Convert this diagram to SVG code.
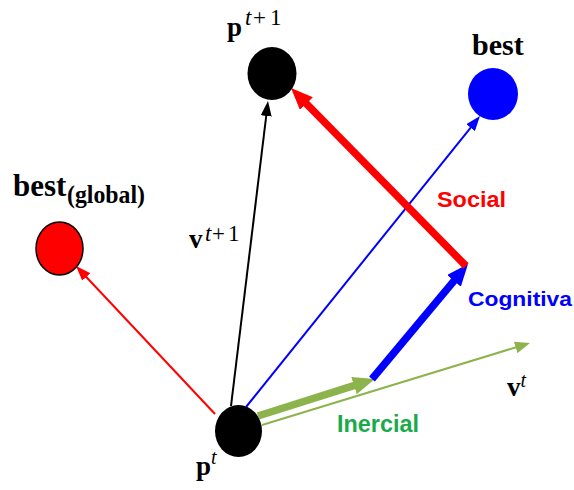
<svg xmlns="http://www.w3.org/2000/svg" width="574" height="490" viewBox="0 0 574 490">
<style>
.serif{font-family:"Liberation Serif","Times New Roman",serif;fill:#000}
.b{font-weight:bold}
.it{font-style:italic}
.sup{font-size:23px}
.sans{font-family:"Liberation Sans",Arial,sans-serif;font-weight:bold}
.thin{fill:none;stroke-width:2}
.thick{fill:none;stroke-width:7.5}
</style>
<defs>
<marker id="hr" markerUnits="userSpaceOnUse" markerWidth="15" markerHeight="11" refX="4" refY="5.5" orient="auto"><path d="M0,0 L15,5.5 L0,11 z" fill="#ff0000"/></marker>
<marker id="hk" markerUnits="userSpaceOnUse" markerWidth="15" markerHeight="11" refX="4" refY="5.5" orient="auto"><path d="M0,0 L15,5.5 L0,11 z" fill="#000"/></marker>
<marker id="hb" markerUnits="userSpaceOnUse" markerWidth="15" markerHeight="11" refX="4" refY="5.5" orient="auto"><path d="M0,0 L15,5.5 L0,11 z" fill="#0000ff"/></marker>
<marker id="hg" markerUnits="userSpaceOnUse" markerWidth="15" markerHeight="12" refX="4" refY="6" orient="auto"><path d="M0,0 L15,6 L0,12 z" fill="#8db34d"/></marker>
<marker id="Hr" markerUnits="userSpaceOnUse" markerWidth="22" markerHeight="18" refX="4" refY="9" orient="auto"><path d="M0,0 L22,9 L0,18 z" fill="#ff0000"/></marker>
<marker id="Hb" markerUnits="userSpaceOnUse" markerWidth="22" markerHeight="18" refX="4" refY="9" orient="auto"><path d="M0,0 L22,9 L0,18 z" fill="#0000ff"/></marker>
<marker id="Hg" markerUnits="userSpaceOnUse" markerWidth="22" markerHeight="18" refX="4" refY="9" orient="auto"><path d="M0,0 L22,9 L0,18 z" fill="#8db34d"/></marker>
</defs>
<rect width="574" height="490" fill="#fff"/>
<g id="connectors">
<line class="thin" x1="215" y1="414" x2="83.5" y2="274" stroke="#ff0000" marker-end="url(#hr)"/>
<line class="thin" x1="231" y1="406" x2="266.7" y2="112" stroke="#000" marker-end="url(#hk)"/>
<line class="thin" x1="246" y1="407" x2="473.1" y2="124.6" stroke="#0000ff" marker-end="url(#hb)"/>
<line class="thin" x1="262" y1="425" x2="519.5" y2="346.2" stroke="#8db34d" stroke-width="2.5" marker-end="url(#hg)"/>
<line class="thick" x1="258" y1="416" x2="357.8" y2="384.4" stroke="#8db34d" stroke-width="8" marker-end="url(#Hg)"/>
<line class="thick" x1="372" y1="379" x2="456.5" y2="277.8" stroke="#0000ff" marker-end="url(#Hb)"/>
<line class="thick" x1="466" y1="266" x2="303.6" y2="100.8" stroke="#ff0000" marker-end="url(#Hr)"/>
</g>
<g id="p_t">
<ellipse cx="238.5" cy="431" rx="23.5" ry="26" fill="#000"/>
<text class="serif" x="196" y="475"><tspan class="b" font-size="27">p</tspan><tspan class="it" font-size="20" dy="-11">t</tspan></text>
</g>
<g id="p_t1">
<ellipse cx="272" cy="73.5" rx="24.5" ry="26.5" fill="#000"/>
<text class="serif" x="227" y="36"><tspan class="b" font-size="27">p</tspan><tspan class="it sup" x="245" y="25">t</tspan><tspan class="sup" x="253" y="25">+</tspan><tspan class="sup" x="270" y="25">1</tspan></text>
</g>
<g id="best">
<ellipse cx="493" cy="94" rx="25" ry="26" fill="#0000ff"/>
<text class="serif b" x="472" y="55" font-size="30">best</text>
</g>
<g id="best_global">
<ellipse cx="59.5" cy="248.5" rx="23.5" ry="26.5" fill="#ff0000" stroke="#000" stroke-width="1.5"/>
<text class="serif" x="13" y="196"><tspan class="b" font-size="31">best</tspan><tspan class="b" font-size="25" x="67" y="203" textLength="78" lengthAdjust="spacingAndGlyphs">(global)</tspan></text>
</g>
<g id="v_t1">
<text class="serif" x="189" y="248"><tspan class="b" font-size="27">v</tspan><tspan class="it sup" x="205" y="241">t</tspan><tspan class="sup" x="212" y="241">+</tspan><tspan class="sup" x="228" y="241">1</tspan></text>
</g>
<g id="v_t">
<text class="serif" x="507" y="396"><tspan class="b" font-size="27">v</tspan><tspan class="it" font-size="20" dy="-9">t</tspan></text>
</g>
<g id="labels">
<text class="sans" x="437" y="207" font-size="22" fill="#ff0000" textLength="69" lengthAdjust="spacingAndGlyphs">Social</text>
<text class="sans" x="468" y="306" font-size="21" fill="#0000ff" textLength="104" lengthAdjust="spacingAndGlyphs">Cognitiva</text>
<text class="sans" x="337" y="432" font-size="23" fill="#1aaa4a" textLength="82" lengthAdjust="spacingAndGlyphs">Inercial</text>
</g>
</svg>
